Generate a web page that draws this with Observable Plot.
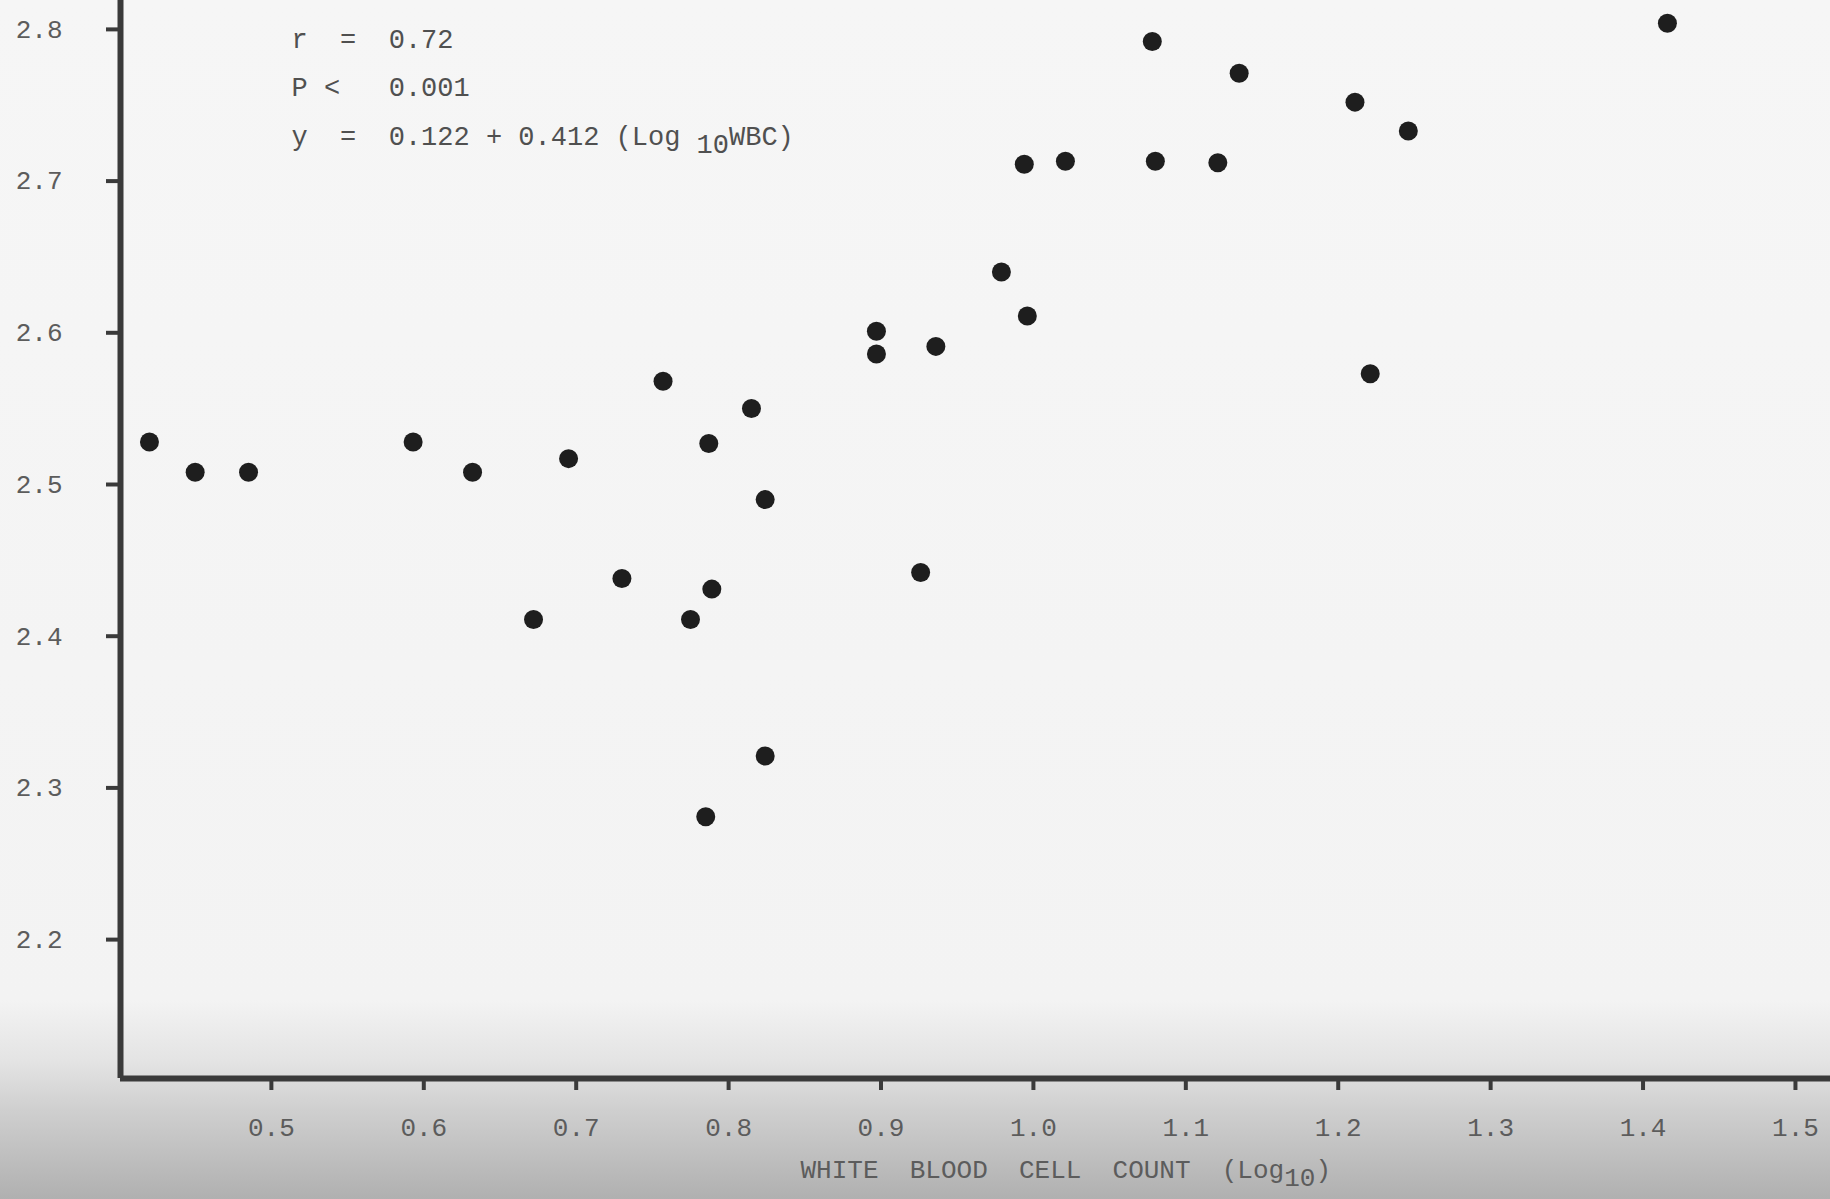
<!DOCTYPE html>
<html>
<head>
<meta charset="utf-8">
<script src="https://cdn.jsdelivr.net/npm/d3@7"></script>
<script src="https://cdn.jsdelivr.net/npm/@observablehq/plot@0.6"></script>
<style>
  html, body { margin: 0; padding: 0; background: #f5f5f5; }
  #chart svg text { white-space: pre; }
</style>
</head>
<body>
<div id="chart"></div>
<script>
// Log10 white blood cell count (x) vs. y value
const wbcLog = [0.420, 0.450, 0.485, 0.593, 0.632, 0.672, 0.695, 0.730, 0.757, 0.775,
                0.785, 0.787, 0.789, 0.815, 0.824, 0.824, 0.897, 0.897, 0.926, 0.936,
                0.979, 0.994, 0.996, 1.021, 1.078, 1.080, 1.121, 1.135, 1.211, 1.221,
                1.246, 1.416];
const yValue = [2.532, 2.512, 2.512, 2.532, 2.512, 2.415, 2.521, 2.442, 2.572, 2.415,
                2.285, 2.531, 2.435, 2.554, 2.494, 2.325, 2.605, 2.590, 2.446, 2.595,
                2.644, 2.715, 2.615, 2.717, 2.796, 2.717, 2.716, 2.775, 2.756, 2.577,
                2.737, 2.808];
const xTicks = [0.5, 0.6, 0.7, 0.8, 0.9, 1.0, 1.1, 1.2, 1.3, 1.4, 1.5];
const yTicks = [2.2, 2.3, 2.4, 2.5, 2.6, 2.7, 2.8];
const xDomain = [0.401, 1.523];
const yDomain = [2.1124, 2.823];
const statLines = ["r  =  0.72", "P <   0.001", "y  =  0.122 + 0.412 (Log _{10}WBC)"];
const xTitle = "WHITE  BLOOD  CELL  COUNT  (Log_{10})";

const points = wbcLog.map((x, i) => ({x, y: yValue[i]}));
const textFill = "#5c5c5c";
const ink = "#3a3a3a";

const chart = Plot.plot({
  width: 1830,
  height: 1199,
  marginLeft: 120,
  marginRight: 0,
  marginTop: 0,
  marginBottom: 121,
  x: {domain: xDomain},
  y: {domain: yDomain},
  style: {
    fontFamily: "'Liberation Mono', 'DejaVu Sans Mono', monospace",
    fontSize: "26px",
    background: "linear-gradient(to bottom, #f6f6f6 0px, #f3f3f3 1000px, #e4e4e4 1060px, #cfcfcf 1110px, #b0b0b0 1199px)"
  },
  marks: [
    Plot.axisX(xTicks, {tickSize: 12, tickPadding: 27, strokeWidth: 4, stroke: ink, fill: textFill,
                        tickFormat: d => d.toFixed(1), label: null}),
    Plot.axisY(yTicks, {tickSize: 14, tickPadding: 44, strokeWidth: 4, stroke: ink, fill: textFill,
                        tickFormat: d => d.toFixed(1), label: null, dy: -6}),
    Plot.ruleX([xDomain[0]], {stroke: ink, strokeWidth: 6}),
    Plot.ruleY([yDomain[0]], {stroke: ink, strokeWidth: 6}),
    Plot.dot(points, {x: "x", y: "y", r: 9.5, fill: "#1e1e1e", stroke: "none"}),
    Plot.text([statLines[0]], {text: d => d, frameAnchor: "top-left", textAnchor: "start", dx: 171, dy: 28, fontSize: 27, fill: "#505050"}),
    Plot.text([statLines[1]], {text: d => d, frameAnchor: "top-left", textAnchor: "start", dx: 171, dy: 76, fontSize: 27, fill: "#505050"}),
    Plot.text([statLines[2]], {text: d => d, frameAnchor: "top-left", textAnchor: "start", dx: 171, dy: 125, fontSize: 27, fill: "#505050"}),
    Plot.text([xTitle], {text: d => d, frameAnchor: "bottom-left", textAnchor: "start", dx: 680, dy: 99, fontSize: 26, fill: textFill})
  ]
});

// turn "_{..}" into lowered subscripts
chart.querySelectorAll("text").forEach(t => {
  const s = t.textContent;
  if (!s.includes("_{")) return;
  const m = s.match(/^(.*)_\{(.*?)\}(.*)$/);
  if (!m) return;
  while (t.firstChild) t.removeChild(t.firstChild);
  const ns = "http://www.w3.org/2000/svg";
  const a = document.createElementNS(ns, "tspan"); a.textContent = m[1];
  const b = document.createElementNS(ns, "tspan"); b.textContent = m[2]; b.setAttribute("dy", "0.32em");
  const c = document.createElementNS(ns, "tspan"); c.textContent = m[3]; c.setAttribute("dy", "-0.32em");
  t.append(a, b, c);
});

document.getElementById("chart").append(chart);
</script>
</body>
</html>
